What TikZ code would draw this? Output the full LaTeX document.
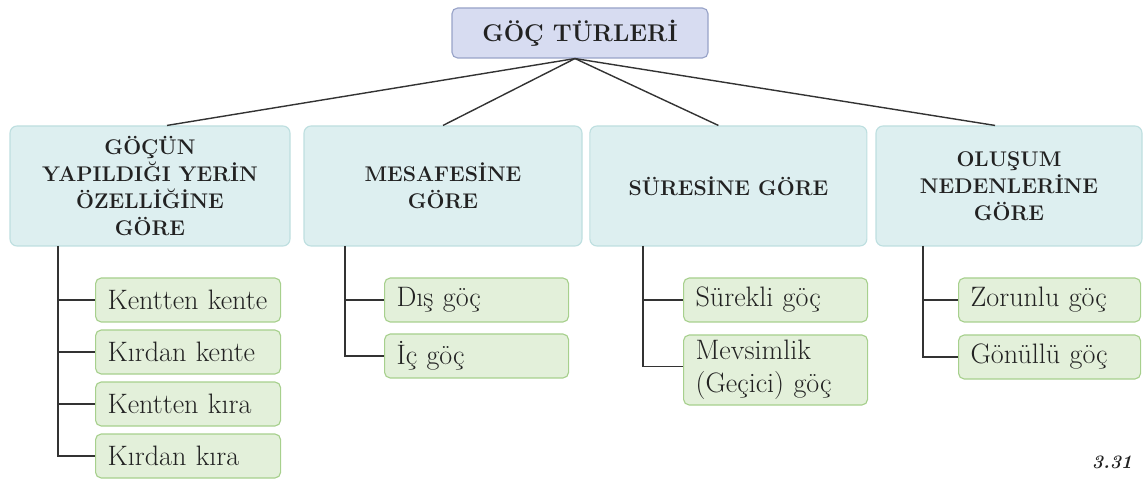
\documentclass[tikz,border=0pt]{standalone}
\usepackage{fontspec}
\usepackage{xcolor}
\usepackage{tikz}
\usetikzlibrary{positioning,calc}

\definecolor{titlefill}{HTML}{D7DCF1}
\definecolor{titledraw}{HTML}{98A3C8}
\definecolor{catfill}{HTML}{DDEFF0}
\definecolor{catdraw}{HTML}{BEDFE0}
\definecolor{subfill}{HTML}{E3F0DA}
\definecolor{subdraw}{HTML}{A7D08D}
\definecolor{linegray}{HTML}{333333}
\definecolor{textgray}{HTML}{222222}

\begin{document}
\begin{tikzpicture}[
  title/.style={draw=titledraw,fill=titlefill,rounded corners=4pt,line width=0.8pt,minimum width=6.4cm,minimum height=1.25cm,text=textgray,font=\fontsize{17.2}{20}\selectfont\bfseries},
  cat/.style={draw=catdraw,fill=catfill,rounded corners=5pt,line width=0.8pt,minimum height=3.0cm,align=center,text=textgray,font=\fontsize{15.1}{19.2}\selectfont\bfseries},
  sub/.style={draw=subdraw,fill=subfill,rounded corners=4pt,line width=0.8pt,anchor=west,minimum height=1.1cm,align=left,inner xsep=0.3cm,text=textgray,font=\fontsize{20}{23.5}\selectfont},
  tree/.style={draw=linegray,line width=1pt},
]
  \useasboundingbox (0,0) rectangle (28.6,-12.075);

  % Top
  \node[title] (gt) at (14.5,-0.825) {GÖÇ TÜRLERİ};

  % Categories
  \node[cat,minimum width=7.0cm]   (gc1) at (3.75,-4.65)   {GÖÇÜN\\YAPILDIĞI YERİN\\ÖZELLİĞİNE\\GÖRE};
  \node[cat,minimum width=6.95cm]  (gc2) at (11.075,-4.65) {MESAFESİNE\\GÖRE};
  \node[cat,minimum width=6.925cm] (gc3) at (18.21,-4.65)  {SÜRESİNE GÖRE};
  \node[cat,minimum width=6.65cm]  (gc4) at (25.225,-4.65) {OLUŞUM\\NEDENLERİNE\\GÖRE};

  \coordinate (top) at ([xshift=-0.125cm]gt.south);
  \draw[tree] (top) -- ([xshift=0.425cm]gc1.north);
  \draw[tree] (top) -- (gc2.north);
  \draw[tree] (top) -- ([xshift=-0.25cm]gc3.north);
  \draw[tree] (top) -- ([xshift=-0.35cm]gc4.north);

  % Yer
  \node[sub,text width=4.025cm] (k1) at (2.375,-7.5)  {Kentten kente};
  \node[sub,text width=4.025cm] (k2) at (2.375,-8.8)  {Kırdan kente};
  \node[sub,text width=4.025cm] (k3) at (2.375,-10.1) {Kentten kıra};
  \node[sub,text width=4.025cm] (k4) at (2.375,-11.4) {Kırdan kıra};
  \coordinate (t1) at (1.45,-6.15);
  \draw[tree] (t1) |- (k4.west);
  \foreach \n in {k1,k2,k3}
    \draw[tree] (t1 |- \n.west) -- (\n.west);

  % Mesafe
  \node[sub,text width=4.0cm] (m1) at (9.6,-7.5) {Dış göç};
  \node[sub,text width=4.0cm] (m2) at (9.6,-8.9) {İç göç};
  \coordinate (t2) at (8.625,-6.15);
  \draw[tree] (t2) |- (m2.west);
  \draw[tree] (t2 |- m1.west) -- (m1.west);

  % Sure
  \node[sub,text width=4.0cm] (s1) at (17.075,-7.5) {Sürekli göç};
  \node[sub,text width=4.0cm,minimum height=1.75cm] (s2) at (17.075,-9.25) {Mevsimlik\\(Geçici) göç};
  \coordinate (t3) at (16.075,-6.15);
  \draw[tree] (t3) |- ($(s2.north west)!0.45!(s2.south west)$);
  \draw[tree] (t3 |- s1.west) -- (s1.west);

  % Neden
  \node[sub,text width=3.95cm] (n1) at (23.95,-7.5)   {Zorunlu göç};
  \node[sub,text width=3.95cm] (n2) at (23.95,-8.925) {Gönüllü göç};
  \coordinate (t4) at (23.075,-6.15);
  \draw[tree] (t4) |- (n2.west);
  \draw[tree] (t4 |- n1.west) -- (n1.west);

  \node[text=textgray,font=\bfseries\itshape\fontsize{13.5}{16}\selectfont] (fig) at (27.8,-11.55) {3.31};
\end{tikzpicture}
\end{document}
